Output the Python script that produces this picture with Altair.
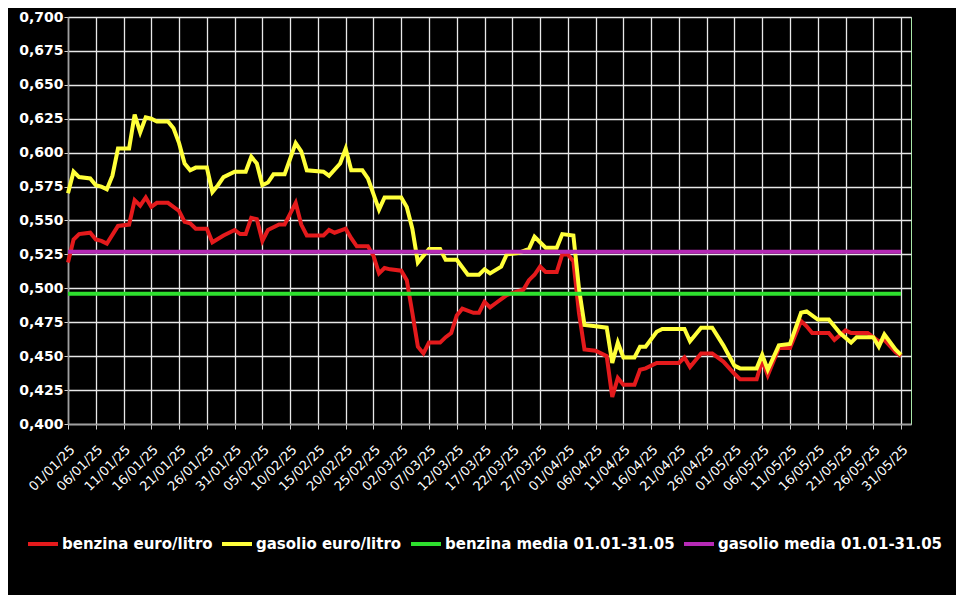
import altair as alt
import pandas as pd

benzina_dates = [
    "2025-01-01", "2025-01-02", "2025-01-03", "2025-01-05", "2025-01-06", "2025-01-07", "2025-01-08",
    "2025-01-10", "2025-01-12", "2025-01-13", "2025-01-14", "2025-01-15", "2025-01-16", "2025-01-17",
    "2025-01-19", "2025-01-21", "2025-01-22", "2025-01-23", "2025-01-24", "2025-01-26", "2025-01-27",
    "2025-01-29", "2025-01-31", "2025-02-01", "2025-02-02", "2025-02-03", "2025-02-04", "2025-02-05",
    "2025-02-06", "2025-02-08", "2025-02-09", "2025-02-11", "2025-02-12", "2025-02-13", "2025-02-16",
    "2025-02-17", "2025-02-18", "2025-02-20", "2025-02-21", "2025-02-22", "2025-02-24", "2025-02-25",
    "2025-02-26", "2025-02-27", "2025-02-28", "2025-03-02", "2025-03-03", "2025-03-04", "2025-03-05",
    "2025-03-06", "2025-03-07", "2025-03-09", "2025-03-10", "2025-03-11", "2025-03-12", "2025-03-13",
    "2025-03-15", "2025-03-16", "2025-03-17", "2025-03-18", "2025-03-19", "2025-03-21", "2025-03-23",
    "2025-03-24", "2025-03-25", "2025-03-26", "2025-03-27", "2025-03-28", "2025-03-30", "2025-03-31",
    "2025-04-01", "2025-04-02", "2025-04-03", "2025-04-04", "2025-04-06", "2025-04-08", "2025-04-09",
    "2025-04-10", "2025-04-11", "2025-04-13", "2025-04-14", "2025-04-15", "2025-04-17", "2025-04-21",
    "2025-04-22", "2025-04-23", "2025-04-25", "2025-04-27", "2025-04-29", "2025-05-01", "2025-05-02",
    "2025-05-05", "2025-05-06", "2025-05-07", "2025-05-09", "2025-05-11", "2025-05-13", "2025-05-14",
    "2025-05-15", "2025-05-18", "2025-05-19", "2025-05-21", "2025-05-22", "2025-05-25", "2025-05-27",
    "2025-05-28", "2025-05-30", "2025-05-31",
]
benzina_values = [
    0.519, 0.536, 0.540, 0.541, 0.536, 0.535, 0.533,
    0.546, 0.547, 0.565, 0.561, 0.567, 0.560, 0.563,
    0.563, 0.557, 0.549, 0.548, 0.544, 0.544, 0.534,
    0.539, 0.543, 0.540, 0.540, 0.552, 0.551, 0.535,
    0.543, 0.547, 0.547, 0.563, 0.547, 0.539, 0.539,
    0.543, 0.541, 0.544, 0.537, 0.531, 0.531, 0.524,
    0.511, 0.515, 0.514, 0.513, 0.506, 0.482, 0.457,
    0.452, 0.460, 0.460, 0.464, 0.467, 0.480, 0.485,
    0.482, 0.482, 0.490, 0.486, 0.489, 0.495, 0.498,
    0.499, 0.506, 0.510, 0.516, 0.512, 0.512, 0.525,
    0.525, 0.520, 0.482, 0.455, 0.454, 0.450, 0.420,
    0.434, 0.429, 0.429, 0.440, 0.441, 0.445, 0.445,
    0.449, 0.442, 0.452, 0.452, 0.446, 0.437, 0.433,
    0.433, 0.447, 0.436, 0.456, 0.456, 0.476, 0.472,
    0.467, 0.467, 0.462, 0.469, 0.467, 0.467, 0.461,
    0.462, 0.453, 0.450,
]

gasolio_dates = [
    "2025-01-01", "2025-01-02", "2025-01-03", "2025-01-05", "2025-01-06", "2025-01-07", "2025-01-08",
    "2025-01-09", "2025-01-10", "2025-01-12", "2025-01-13", "2025-01-14", "2025-01-15", "2025-01-16",
    "2025-01-17", "2025-01-19", "2025-01-20", "2025-01-21", "2025-01-22", "2025-01-23", "2025-01-24",
    "2025-01-26", "2025-01-27", "2025-01-28", "2025-01-29", "2025-01-31", "2025-02-02", "2025-02-03",
    "2025-02-04", "2025-02-05", "2025-02-06", "2025-02-07", "2025-02-09", "2025-02-11", "2025-02-12",
    "2025-02-13", "2025-02-16", "2025-02-17", "2025-02-19", "2025-02-20", "2025-02-21", "2025-02-23",
    "2025-02-24", "2025-02-26", "2025-02-27", "2025-03-02", "2025-03-03", "2025-03-04", "2025-03-05",
    "2025-03-06", "2025-03-07", "2025-03-09", "2025-03-10", "2025-03-12", "2025-03-14", "2025-03-16",
    "2025-03-17", "2025-03-18", "2025-03-20", "2025-03-21", "2025-03-23", "2025-03-25", "2025-03-26",
    "2025-03-28", "2025-03-30", "2025-03-31", "2025-04-02", "2025-04-03", "2025-04-04", "2025-04-06",
    "2025-04-08", "2025-04-09", "2025-04-10", "2025-04-11", "2025-04-13", "2025-04-14", "2025-04-15",
    "2025-04-17", "2025-04-18", "2025-04-22", "2025-04-23", "2025-04-25", "2025-04-27", "2025-04-29",
    "2025-05-01", "2025-05-02", "2025-05-05", "2025-05-06", "2025-05-07", "2025-05-09", "2025-05-11",
    "2025-05-13", "2025-05-14", "2025-05-16", "2025-05-18", "2025-05-20", "2025-05-22", "2025-05-23",
    "2025-05-26", "2025-05-27", "2025-05-28", "2025-05-30", "2025-05-31",
]
gasolio_values = [
    0.570, 0.586, 0.582, 0.581, 0.576, 0.575, 0.573,
    0.583, 0.603, 0.603, 0.628, 0.615, 0.626, 0.625,
    0.623, 0.623, 0.618, 0.607, 0.592, 0.587, 0.589,
    0.589, 0.571, 0.576, 0.582, 0.586, 0.586, 0.597,
    0.592, 0.576, 0.578, 0.584, 0.584, 0.607, 0.601,
    0.587, 0.586, 0.583, 0.592, 0.603, 0.587, 0.587,
    0.581, 0.558, 0.567, 0.567, 0.560, 0.544, 0.519,
    0.524, 0.529, 0.529, 0.521, 0.521, 0.510, 0.510,
    0.514, 0.511, 0.516, 0.525, 0.526, 0.529, 0.538,
    0.530, 0.530, 0.540, 0.539, 0.500, 0.473, 0.472,
    0.471, 0.445, 0.460, 0.449, 0.449, 0.457, 0.457,
    0.468, 0.470, 0.470, 0.461, 0.471, 0.471, 0.458,
    0.443, 0.441, 0.441, 0.451, 0.440, 0.458, 0.459,
    0.482, 0.483, 0.477, 0.477, 0.467, 0.460, 0.464,
    0.464, 0.457, 0.466, 0.455, 0.451,
]

mean_dates = ["2025-01-01", "2025-05-31"]
benzina_media = 0.496
gasolio_media = 0.527

series_names = [
    "benzina euro/litro",
    "gasolio euro/litro",
    "benzina media 01.01-31.05",
    "gasolio media 01.01-31.05",
]
series_colors = ["#e41a1c", "#ffff3a", "#2ee02e", "#b62ab6"]

x_ticks = [
    "2025-01-01", "2025-01-06", "2025-01-11", "2025-01-16", "2025-01-21", "2025-01-26", "2025-01-31",
    "2025-02-05", "2025-02-10", "2025-02-15", "2025-02-20", "2025-02-25", "2025-03-02", "2025-03-07",
    "2025-03-12", "2025-03-17", "2025-03-22", "2025-03-27", "2025-04-01", "2025-04-06", "2025-04-11",
    "2025-04-16", "2025-04-21", "2025-04-26", "2025-05-01", "2025-05-06", "2025-05-11", "2025-05-16",
    "2025-05-21", "2025-05-26", "2025-05-31",
]
y_ticks = [0.400, 0.425, 0.450, 0.475, 0.500, 0.525, 0.550, 0.575, 0.600, 0.625, 0.650, 0.675, 0.700]


def frame(dates, values, name):
    return pd.DataFrame({
        "date": pd.to_datetime(dates),
        "value": values,
        "series": name,
    })


df_b = frame(benzina_dates, benzina_values, series_names[0])
df_g = frame(gasolio_dates, gasolio_values, series_names[1])
df_bm = frame(mean_dates, [benzina_media] * 2, series_names[2])
df_gm = frame(mean_dates, [gasolio_media] * 2, series_names[3])

x_enc = alt.X(
    "date:T",
    scale=alt.Scale(domain=[
        alt.DateTime(year=2025, month=1, date=1),
        alt.DateTime(year=2025, month=6, date=1, hours=19),
    ]),
    axis=alt.Axis(
        values=[alt.DateTime(year=int(d[:4]), month=int(d[5:7]), date=int(d[8:10])) for d in x_ticks],
        format="%d/%m/%y",
        labelAngle=-45,
        labelAlign="right",
        labelBaseline="top",
        labelFontSize=13,
        labelFontWeight="normal",
        labelPadding=14,
        labelOverlap=False,
        labelBound=False,
        labelFlush=False,
        tickSize=5,
        title=None,
    ),
)
y_enc = alt.Y(
    "value:Q",
    scale=alt.Scale(domain=[0.4, 0.7], nice=False, zero=False),
    axis=alt.Axis(
        values=y_ticks,
        labelExpr="replace(format(datum.value, '.3f'), '.', ',')",
        labelFontSize=14,
        labelFontWeight="bold",
        labelOverlap=False,
        tickSize=4,
        labelPadding=1,
        title=None,
    ),
)
color_enc = alt.Color(
    "series:N",
    scale=alt.Scale(domain=series_names, range=series_colors),
    legend=alt.Legend(
        title=None,
        orient="none",
        legendX=-42,
        legendY=510,
        direction="horizontal",
        columns=4,
        symbolType="stroke",
        symbolSize=900,
        symbolStrokeWidth=4,
        labelFontSize=15,
        labelOffset=2,
        labelLimit=0,
        columnPadding=1,
        padding=0,
    ),
)


def layer_line(df):
    return alt.Chart(df).mark_line(strokeWidth=4).encode(x=x_enc, y=y_enc, color=color_enc)


chart = alt.layer(
    layer_line(df_b), layer_line(df_g), layer_line(df_bm), layer_line(df_gm)
).properties(
    width=843,
    height=407,
    background="black",
    autosize=alt.AutoSizeParams(type="none"),
    padding={"left": 60, "top": 9, "right": 45, "bottom": 171},
).configure_view(
    stroke="#a8e6a8",
    strokeWidth=1,
).configure_axis(
    labelColor="white",
    labelFont="DejaVu Sans",
    gridColor="#e8e8e8",
    gridWidth=1.3,
    gridOpacity=1,
    domainColor="#a0a0a0",
    domainWidth=1.5,
    tickColor="#d0d0d0",
    grid=True,
).configure_legend(
    labelColor="white",
    labelFont="DejaVu Sans",
    labelFontWeight="bold",
)

chart.save("out.html", embed_options={"renderer": "svg", "actions": False})
